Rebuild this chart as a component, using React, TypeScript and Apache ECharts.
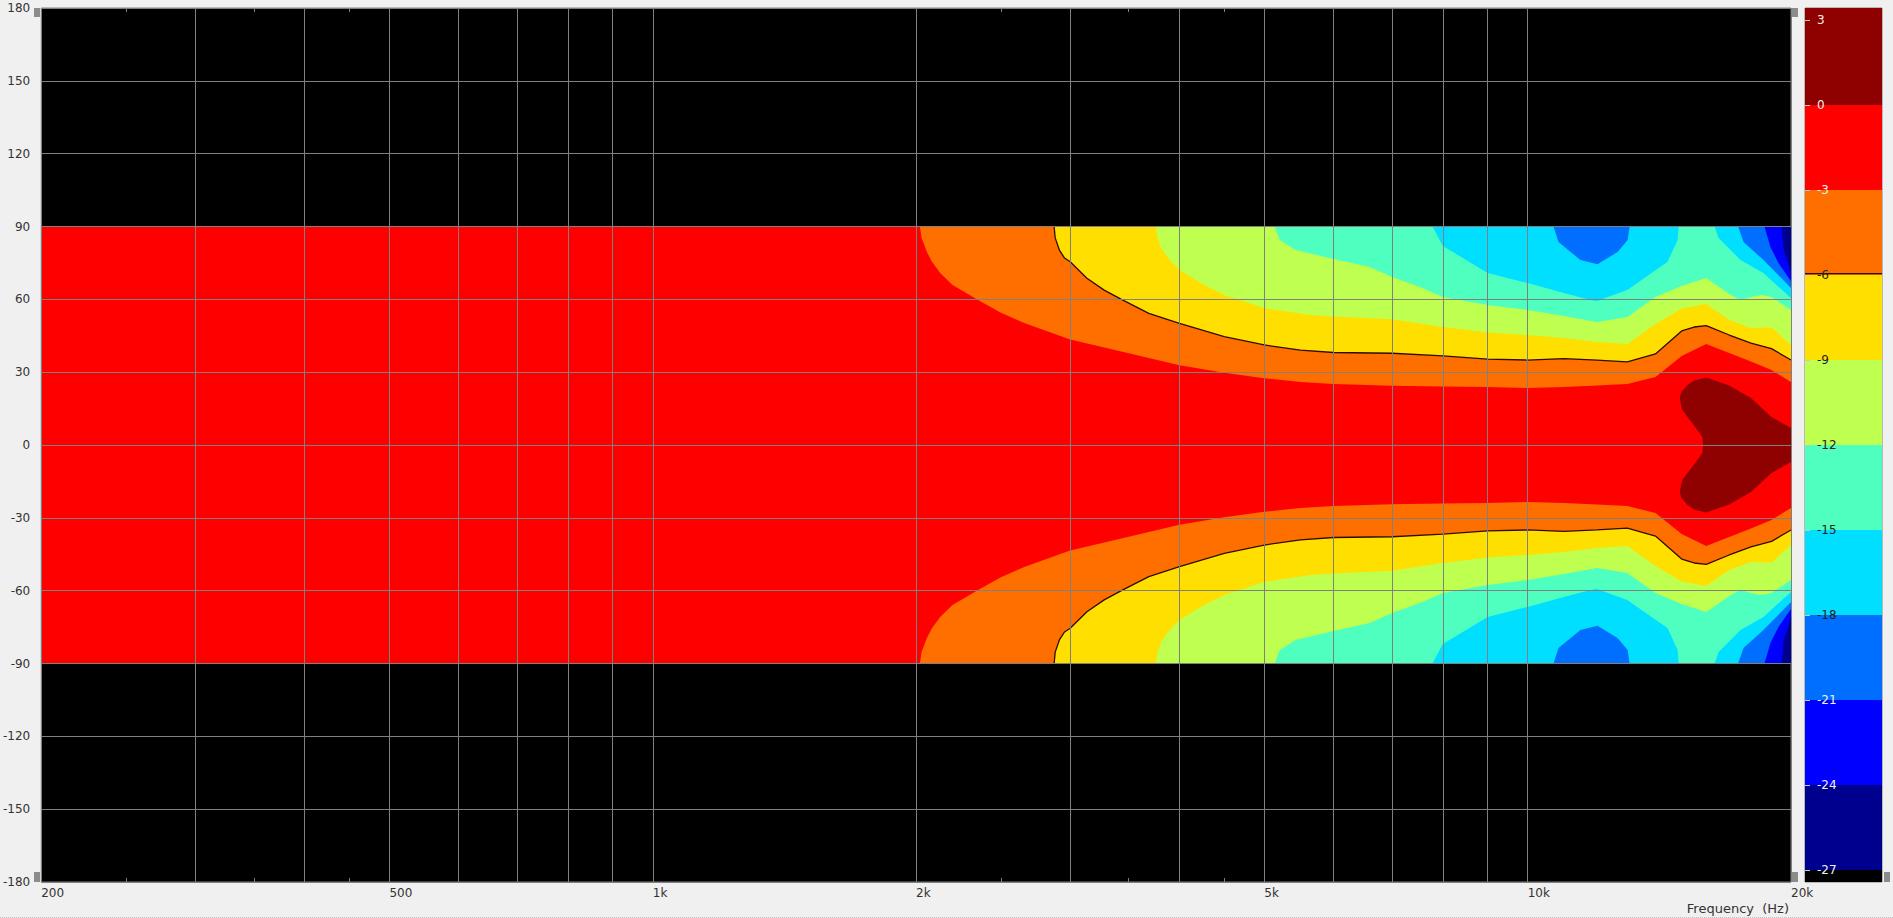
import React, { useEffect, useRef } from "react";
import * as echarts from "echarts";

// Axis values
const xGridFreqs = [200, 300, 400, 500, 600, 700, 800, 900, 1000, 2000, 3000, 4000, 5000, 6000, 7000, 8000, 9000, 10000, 20000];
const xLabelFreqs = [200, 500, 1000, 2000, 5000, 10000, 20000];
const xMinorFreqs = [250, 350, 450, 2500, 3500, 4500];
const colorbarLevels = [3, 0, -3, -6, -9, -12, -15, -18, -21, -24, -27];

// Colour scale bands (dB)
const bandEdges = [3.42, 0, -3, -6, -9, -12, -15, -18, -21, -24, -27, -27.42];
const bandColors = ["#8f0000", "#ff0000", "#ff6f00", "#ffdf00", "#bfff4f", "#4fffbf", "#00dfff", "#006fff", "#0000ff", "#00008f", "#000000"];

// -3 dB contour
const c3F = [2020, 2029, 2057, 2085, 2132, 2201, 2346, 2500, 2663, 3000, 3500, 4000, 4500, 5000, 5500, 6000, 7000, 8000, 9000, 10000, 11000, 12000, 13000, 14000, 15000, 16000, 17000, 18000, 19000, 20000];
const c3Top = [90, 85.3, 79.6, 75.5, 70.7, 65.9, 60, 54.5, 50.1, 43.5, 37.8, 32.9, 29.8, 27.5, 25.9, 25.1, 24.4, 24.1, 23.9, 23.5, 23.9, 24.5, 25.1, 28, 36.7, 41.6, 37.9, 34.4, 30.9, 25.9];
const c3Bot = [-90, -85.3, -79.6, -75.5, -70.7, -65.9, -60, -54.5, -50.1, -43.5, -37.8, -32.9, -29.8, -27.5, -25.9, -25.1, -24.4, -24.1, -23.9, -23.5, -23.9, -24.5, -25.1, -28, -36.7, -41.6, -37.9, -34.4, -30.9, -25.9];

// -6 dB contour (the drawn dark line)
const c6F = [2876, 2884, 2916, 2956, 3000, 3135, 3281, 3433, 3690, 4000, 4500, 5000, 5500, 6000, 7000, 8000, 9000, 10000, 11000, 12000, 13000, 14000, 15000, 15500, 16000, 17000, 18000, 19000, 20000];
const c6Top = [90, 85.3, 80.3, 77, 75.5, 68.7, 63.8, 60, 54.2, 50.1, 44.6, 41.2, 39.1, 38.1, 37.8, 36.7, 35.4, 35, 35.6, 35, 34.2, 37.5, 47, 48.6, 49.2, 45.3, 42, 39.7, 35];
const c6Bot = [-90, -85.3, -80.3, -77, -75.5, -68.7, -63.8, -60, -54.2, -50.1, -44.6, -41.2, -39.1, -38.1, -37.8, -36.7, -35.4, -35, -35.6, -35, -34.2, -37.5, -47, -48.6, -49.2, -45.3, -42, -39.7, -35];

// -9 dB contour
const c9F = [3758, 3776, 3811, 3881, 4000, 4229, 4500, 5000, 5650, 6000, 7000, 8000, 9000, 10000, 11000, 12000, 13000, 14000, 15000, 16000, 17000, 18000, 19000, 20000];
const c9Top = [90, 85.3, 81.1, 77, 72.1, 66.7, 61.8, 56.4, 53.5, 52.9, 51.8, 48.6, 46.3, 45.3, 44.1, 42.4, 41.6, 49.8, 56.2, 58.1, 51.5, 48.2, 48.4, 41.2];
const c9Bot = [-90, -85.3, -81.1, -77, -72.1, -66.7, -61.8, -56.4, -53.5, -52.9, -51.8, -48.6, -46.3, -45.3, -44.1, -42.4, -41.6, -49.8, -56.2, -58.1, -51.5, -48.2, -48.4, -41.2];

// -12 dB contour
const c12F = [5139, 5208, 5429, 6000, 6596, 7000, 7541, 8000, 9000, 10000, 11000, 12000, 13000, 14000, 15000, 16000, 17000, 17500, 18000, 18500, 19000, 20000];
const c12Top = [90, 84.4, 80.3, 76.6, 73.3, 69.2, 65, 61, 57.7, 55.6, 53.1, 50.7, 52.7, 61, 65.5, 68.8, 62.2, 59.7, 61, 61.8, 61, 55.6];
const c12Bot = [-90, -84.4, -80.3, -76.6, -73.3, -69.2, -65, -61, -57.7, -55.6, -53.1, -50.7, -52.7, -61, -65.5, -68.8, -62.2, -59.7, -61, -61.8, -61, -55.6];

// -15 dB patches
const c15aF = [7784, 8000, 9000, 10000, 11000, 11800, 12000, 13000, 14000, 14450, 14840, 14880];
const c15aTop = [90, 82, 70.8, 66.7, 62.6, 59.7, 59.3, 63.8, 72, 75.4, 84.4, 90];
const c15aBot = [-90, -82, -70.8, -66.7, -62.6, -59.7, -59.3, -63.8, -72, -75.4, -84.4, -90];
const c15bF = [16356, 16530, 17510, 18600, 20000];
const c15bTop = [90, 85.3, 76.2, 70.8, 60.5];
const c15bBot = [-90, -85.3, -76.2, -70.8, -60.5];

// -18 dB patches
const c18aF = [10705, 10846, 11490, 12020, 12670, 13010, 13080];
const c18aTop = [90, 83.6, 76.2, 74.5, 79.5, 84.4, 90];
const c18aBot = [-90, -83.6, -76.2, -74.5, -79.5, -84.4, -90];
const c18bF = [17400, 17650, 18600, 20000];
const c18bTop = [90, 83.6, 76.2, 64.7];
const c18bBot = [-90, -83.6, -76.2, -64.7];

// -21 and -24 dB corners
const c21F = [18650, 18950, 19350, 20000];
const c21Top = [90, 81.5, 75, 67.5];
const c21Bot = [-90, -81.5, -75, -67.5];
const c24F = [19510, 19620, 20000];
const c24Top = [90, 80.3, 71.3];
const c24Bot = [-90, -80.3, -71.3];

// 0 dB closed lobe
const lobeF = [20000, 19000, 18000, 17000, 16000, 15500, 15230, 14990, 14920, 15020, 15480, 15840, 15860, 15840, 15480, 15020, 14920, 14990, 15230, 15500, 16000, 17000, 18000, 19000, 20000];
const lobeD = [7, 11.5, 19.4, 24.5, 27.8, 26.6, 24.7, 21.8, 19.4, 14.4, 8.2, 3.3, 0, -3.3, -8.2, -14.4, -19.4, -21.8, -24.7, -26.6, -27.8, -24.5, -19.4, -11.5, -7];

const zip = (f: number[], d: number[]) => f.map((v, i) => [v, d[i]]);
const capTop = (f: number[], d: number[]) => [...zip(f, d), [20000, 90]];
const capBot = (f: number[], d: number[]) => [...zip(f, d), [20000, -90]];

type Poly = { color: string; pts: number[][] };
const polys: Poly[] = [
  { color: bandColors[1], pts: [[200, 90], [20000, 90], [20000, -90], [200, -90]] },
  { color: bandColors[2], pts: capTop(c3F, c3Top) },
  { color: bandColors[2], pts: capBot(c3F, c3Bot) },
  { color: bandColors[3], pts: capTop(c6F, c6Top) },
  { color: bandColors[3], pts: capBot(c6F, c6Bot) },
  { color: bandColors[4], pts: capTop(c9F, c9Top) },
  { color: bandColors[4], pts: capBot(c9F, c9Bot) },
  { color: bandColors[5], pts: capTop(c12F, c12Top) },
  { color: bandColors[5], pts: capBot(c12F, c12Bot) },
  { color: bandColors[6], pts: zip(c15aF, c15aTop) },
  { color: bandColors[6], pts: zip(c15aF, c15aBot) },
  { color: bandColors[6], pts: capTop(c15bF, c15bTop) },
  { color: bandColors[6], pts: capBot(c15bF, c15bBot) },
  { color: bandColors[7], pts: zip(c18aF, c18aTop) },
  { color: bandColors[7], pts: zip(c18aF, c18aBot) },
  { color: bandColors[7], pts: capTop(c18bF, c18bTop) },
  { color: bandColors[7], pts: capBot(c18bF, c18bBot) },
  { color: bandColors[8], pts: capTop(c21F, c21Top) },
  { color: bandColors[8], pts: capBot(c21F, c21Bot) },
  { color: bandColors[9], pts: capTop(c24F, c24Top) },
  { color: bandColors[9], pts: capBot(c24F, c24Bot) },
  { color: bandColors[0], pts: zip(lobeF, lobeD) },
];

const FONT = "'DejaVu Sans', sans-serif";
const GRID = "#808080";
const HANDLE = "#8c8c8c";
const lightLabels = [3, 0, -3, -21, -24, -27];

export default function App() {
  const ref = useRef<HTMLDivElement>(null);
  useEffect(() => {
    const chart = echarts.init(ref.current!, null, { renderer: "svg" });
    const handle = (x: number, y: number, h: number) => ({
      type: "rect",
      shape: { x, y, width: 6, height: h },
      style: { fill: HANDLE },
      z: 100,
    });
    chart.setOption({
      animation: false,
      backgroundColor: "#f0f0f0",
      grid: [
        { left: 41, top: 8, width: 1750, height: 874, show: true, backgroundColor: "#000", borderColor: GRID, borderWidth: 1, containLabel: false },
        { left: 1805, top: 8, width: 77, height: 874, show: true, backgroundColor: "#000", borderColor: GRID, borderWidth: 1, containLabel: false },
      ],
      xAxis: [
        {
          type: "log", logBase: 10, min: 200, max: 20000, gridIndex: 0, z: 5, position: "bottom",
          axisLine: { show: false },
          axisTick: { show: false, customValues: xGridFreqs },
          splitLine: { show: true, lineStyle: { color: GRID, width: 1 } },
          minorTick: { show: false }, minorSplitLine: { show: false },
          axisLabel: {
            customValues: xLabelFreqs, align: "left", margin: 5, color: "#333", fontFamily: FONT, fontSize: 12,
            showMinLabel: true, showMaxLabel: true, hideOverlap: false,
            formatter: (v: number) => (v >= 1000 ? `${v / 1000}k` : `${v}`),
          },
        },
        {
          type: "log", logBase: 10, min: 200, max: 20000, gridIndex: 0, z: 5, position: "bottom",
          axisLine: { show: false },
          axisTick: { show: true, inside: true, length: 4, customValues: xMinorFreqs, lineStyle: { color: GRID } },
          splitLine: { show: false }, axisLabel: { show: false },
        },
        {
          type: "log", logBase: 10, min: 200, max: 20000, gridIndex: 0, z: 5, position: "top",
          axisLine: { show: false },
          axisTick: { show: true, inside: true, length: 4, customValues: xMinorFreqs, lineStyle: { color: GRID } },
          splitLine: { show: false }, axisLabel: { show: false },
        },
        { type: "value", min: 0, max: 1, gridIndex: 1, show: false },
      ],
      yAxis: [
        {
          type: "value", min: -180, max: 180, interval: 30, gridIndex: 0, z: 5,
          axisLine: { show: false }, axisTick: { show: false },
          splitLine: { show: true, lineStyle: { color: GRID, width: 1 } },
          axisLabel: { margin: 11, color: "#333", fontFamily: FONT, fontSize: 12, showMinLabel: true, showMaxLabel: true },
        },
        {
          type: "value", min: -27.42, max: 3.42, gridIndex: 1, z: 5,
          axisLine: { show: false }, splitLine: { show: false },
          axisTick: { show: true, inside: true, length: 5, customValues: colorbarLevels, lineStyle: { color: "#c8c8c8" } },
          axisLabel: {
            inside: true, margin: 12, customValues: colorbarLevels, fontFamily: FONT, fontSize: 12,
            color: (v: any) => (lightLabels.includes(Number(v)) ? "#f0f0f0" : "#222"),
          },
        },
      ],
      series: [
        {
          type: "custom", xAxisIndex: 0, yAxisIndex: 0, z: 2, silent: true,
          data: polys.map((p, i) => [200, 0, i]),
          encode: { x: 0, y: 1 },
          renderItem: (params: any, api: any) => {
            const p = polys[params.dataIndex];
            return {
              type: "polygon",
              shape: { points: p.pts.map((pt) => api.coord(pt)) },
              style: { fill: p.color },
            };
          },
        },
        ...[c6Top, c6Bot].map((d) => ({
          type: "line", xAxisIndex: 0, yAxisIndex: 0, z: 3, silent: true,
          showSymbol: false, symbol: "none",
          lineStyle: { color: "#2e0c00", width: 1.3 },
          data: zip(c6F, d),
        })),
        {
          type: "custom", xAxisIndex: 3, yAxisIndex: 1, z: 2, silent: true,
          data: bandColors.map((c, i) => [0, bandEdges[i], i]),
          encode: { x: 0, y: 1 },
          renderItem: (params: any, api: any) => {
            const i = params.dataIndex;
            const a = api.coord([0, bandEdges[i]]);
            const b = api.coord([1, bandEdges[i + 1]]);
            return {
              type: "rect",
              shape: { x: a[0], y: a[1], width: b[0] - a[0], height: b[1] - a[1] },
              style: { fill: bandColors[i] },
            };
          },
        },
        {
          type: "line", xAxisIndex: 3, yAxisIndex: 1, z: 3, silent: true,
          showSymbol: false, symbol: "none",
          lineStyle: { color: "#2e0c00", width: 1.3 },
          data: [[0, -5.95], [1, -5.95]],
        },
      ],
      graphic: [
        handle(34, 8, 9), handle(34, 872, 10),
        handle(1792, 8, 9), handle(1792, 872, 10),
        handle(1884, 872, 10),
        {
          type: "text", x: 1789, y: 908, z: 100,
          style: { text: "Frequency  (Hz)", fill: "#333", font: `13px ${FONT}`, textAlign: "right", textVerticalAlign: "middle" },
        },
        {
          type: "line", z: 100,
          shape: { x1: 0, y1: 917.5, x2: 1893, y2: 917.5 },
          style: { stroke: "#c0c0c0", lineWidth: 1, lineDash: [1, 1] },
        },
      ],
    });
    return () => chart.dispose();
  }, []);
  return <div ref={ref} style={{ position: "absolute", left: 0, top: 0, width: 1893, height: 918 }} />;
}
